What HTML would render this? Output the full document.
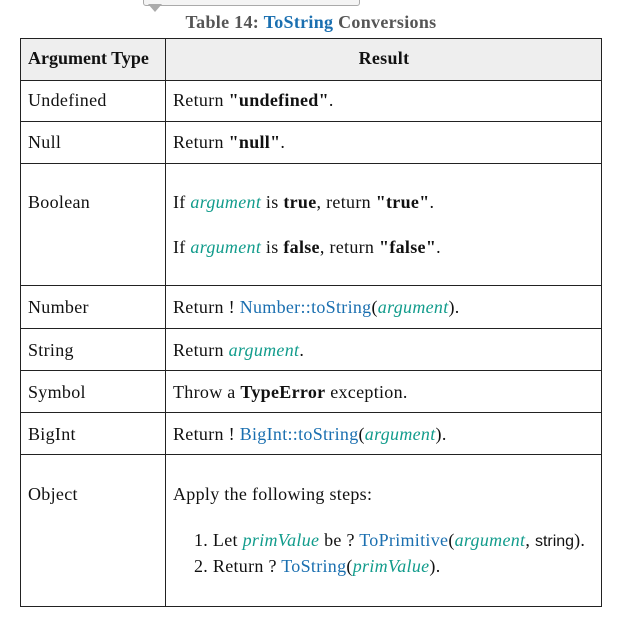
<!DOCTYPE html>
<html><head><style>
body{margin:0;width:633px;height:628px;background:#fff;position:relative;font-family:"Liberation Serif",serif;font-size:18px;letter-spacing:0.3px;color:#111;overflow:hidden}
.t{position:absolute;white-space:nowrap;line-height:20px}
.l{position:absolute;background:#222}
.b{color:#1a6fb0}
.v{color:#129c8c;font-style:italic}
.s{font-family:"Liberation Sans",sans-serif;font-size:16px;letter-spacing:0}
</style></head><body>
<div style="position:absolute;left:143px;top:-4px;width:215px;height:8px;border:1px solid #aaa;border-radius:3px;background:#f4f4f4"></div>
<div style="position:absolute;left:148px;top:4px;width:0;height:0;border-left:7px solid transparent;border-right:7px solid transparent;border-top:8px solid #aaa"></div>
<div class="t" style="left:0;width:622px;text-align:center;top:12px;color:#555;font-weight:bold;font-size:18px">Table 14: <span class="b">ToString</span> Conversions</div>
<div style="position:absolute;left:20px;top:38px;width:582px;height:42px;background:#eee"></div>
<div class="l" style="left:20px;top:38px;width:582px;height:1px"></div>
<div class="l" style="left:20px;top:606px;width:582px;height:1px"></div>
<div class="l" style="left:20px;top:38px;width:1px;height:569px"></div>
<div class="l" style="left:601px;top:38px;width:1px;height:569px"></div>
<div class="l" style="left:165px;top:38px;width:1px;height:569px"></div>
<div class="l" style="left:20px;top:80px;width:582px;height:1px"></div>
<div class="l" style="left:20px;top:121px;width:582px;height:1px"></div>
<div class="l" style="left:20px;top:163px;width:582px;height:1px"></div>
<div class="l" style="left:20px;top:285px;width:582px;height:1px"></div>
<div class="l" style="left:20px;top:328px;width:582px;height:1px"></div>
<div class="l" style="left:20px;top:370px;width:582px;height:1px"></div>
<div class="l" style="left:20px;top:412px;width:582px;height:1px"></div>
<div class="l" style="left:20px;top:454px;width:582px;height:1px"></div>
<div class="t" style="left:28px;top:48px;font-weight:bold;letter-spacing:0">Argument Type</div>
<div class="t" style="left:166px;width:436px;text-align:center;top:48px;font-weight:bold">Result</div>
<div class="t" style="left:28px;top:90px">Undefined</div>
<div class="t" style="left:173px;top:90px">Return <b>"undefined"</b>.</div>
<div class="t" style="left:28px;top:132px">Null</div>
<div class="t" style="left:173px;top:132px">Return <b>"null"</b>.</div>
<div class="t" style="left:28px;top:192px">Boolean</div>
<div class="t" style="left:173px;top:192px">If <span class="v">argument</span> is <b>true</b>, return <b>"true"</b>.</div>
<div class="t" style="left:173px;top:237px">If <span class="v">argument</span> is <b>false</b>, return <b>"false"</b>.</div>
<div class="t" style="left:28px;top:297px">Number</div>
<div class="t" style="left:173px;top:297px">Return ! <span class="b">Number::toString</span>(<span class="v">argument</span>).</div>
<div class="t" style="left:28px;top:340px">String</div>
<div class="t" style="left:173px;top:340px">Return <span class="v">argument</span>.</div>
<div class="t" style="left:28px;top:382px">Symbol</div>
<div class="t" style="left:173px;top:382px">Throw a <b>TypeError</b> exception.</div>
<div class="t" style="left:28px;top:424px">BigInt</div>
<div class="t" style="left:173px;top:424px">Return ! <span class="b">BigInt::toString</span>(<span class="v">argument</span>).</div>
<div class="t" style="left:28px;top:484px">Object</div>
<div class="t" style="left:173px;top:484px">Apply the following steps:</div>
<div class="t" style="left:194px;top:530px">1. Let <span class="v">primValue</span> be ? <span class="b">ToPrimitive</span>(<span class="v">argument</span>, <span class="s">string</span>).</div>
<div class="t" style="left:194px;top:556px">2. Return ? <span class="b">ToString</span>(<span class="v">primValue</span>).</div>
</body></html>
